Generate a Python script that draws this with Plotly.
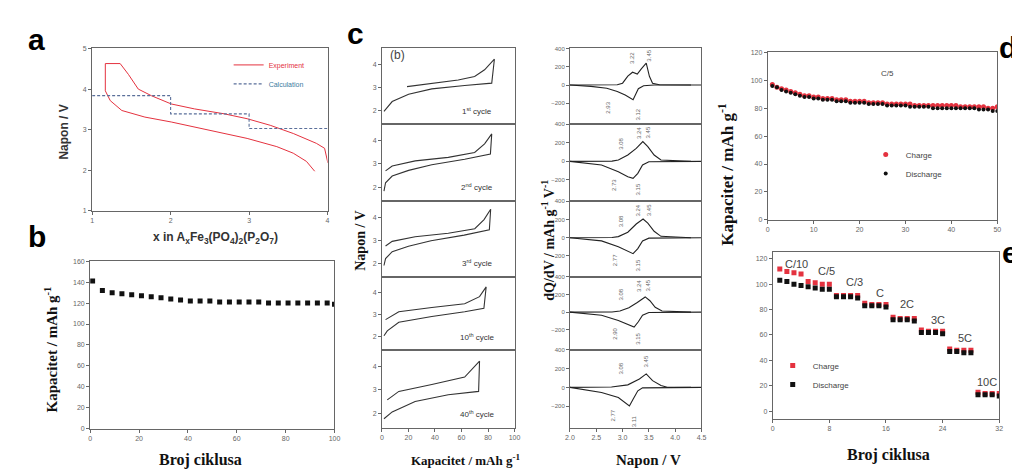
import plotly.graph_objects as go

W, H = 1020, 470
RED = "#e4323f"
BLUE = "#5a6f9a"
GREY = "#666666"
SERIF = "Liberation Serif"
SANS = "Liberation Sans"

# ---------------- data ----------------
# (a) voltage profile, x in AxFe3(PO4)2(P2O7)
a_exp_x = [1.168, 1.168, 1.357, 1.462, 1.588, 1.756, 2.008, 2.303, 2.681, 2.975, 3.269, 3.563, 3.857, 3.962, 4.004]
a_exp_v = [3.958, 4.628, 4.628, 4.362, 4.00, 3.836, 3.634, 3.513, 3.392, 3.271, 3.109, 2.907, 2.665, 2.543, 2.18]
a_exp2_x = [1.168, 1.231, 1.378, 1.672, 2.008, 2.513, 2.975, 3.353, 3.563, 3.731, 3.836]
a_exp2_v = [3.958, 3.715, 3.473, 3.311, 3.19, 2.988, 2.786, 2.584, 2.422, 2.22, 1.978]
a_calc_x = [1.0, 2.0, 2.0, 3.0, 3.0, 4.0]
a_calc_v = [3.84, 3.84, 3.39, 3.39, 3.03, 3.03]
a_xticks = [1, 2, 3, 4]
a_yticks = [1, 2, 3, 4, 5]

# (b) long cycling
b_cycle = [1, 5, 9, 13, 17, 21, 25, 29, 33, 37, 41, 45, 49, 53, 57, 61, 65, 69, 73, 77, 81, 85, 89, 93, 97, 100]
b_cap = [141, 132, 130, 129, 128, 127, 126, 125, 124, 123, 122, 122, 122, 121, 121, 121, 121, 121, 120, 120, 120, 120, 120, 120, 120, 119]

# (c) left: galvanostatic loops (capacity, voltage)
c_names = ["1<sup>st</sup> cycle", "2<sup>nd</sup> cycle", "3<sup>rd</sup> cycle", "10<sup>th</sup> cycle", "40<sup>th</sup> cycle"]
c_cap = [
    [18.9, 37.6, 57.5, 69.9, 77.4, 84.8, 82.8, 62.4, 37.6, 20.1, 7.7, 1.5],
    [2.7, 7.7, 25.1, 50.0, 69.9, 77.4, 82.8, 81.8, 62.4, 37.6, 20.1, 7.7, 2.7, 1.5],
    [2.7, 7.7, 25.0, 50.0, 70.0, 77.0, 82.0, 81.0, 62.0, 37.0, 20.0, 7.7, 2.7, 1.5],
    [2.7, 12.7, 37.6, 62.4, 73.6, 78.6, 76.9, 62.4, 37.6, 12.7, 4.0, 1.5],
    [4.0, 12.7, 37.6, 62.4, 73.6, 72.9, 50.0, 25.0, 7.7, 1.5],
]
c_volt = [
    [3.04, 3.19, 3.33, 3.48, 3.77, 4.23, 3.19, 3.09, 2.94, 2.71, 2.39, 1.96],
    [2.70, 2.91, 3.13, 3.28, 3.49, 3.86, 4.29, 3.42, 3.20, 2.96, 2.72, 2.48, 2.19, 1.83],
    [2.75, 2.95, 3.15, 3.30, 3.50, 3.90, 4.35, 3.45, 3.22, 2.98, 2.74, 2.50, 2.20, 1.90],
    [2.77, 3.13, 3.32, 3.49, 3.81, 4.25, 3.28, 3.13, 2.91, 2.65, 2.26, 2.04],
    [2.58, 2.94, 3.23, 3.55, 4.22, 2.94, 2.80, 2.51, 2.07, 1.78],
]

# (c) right: dQ/dV, charge (positive) and discharge (negative)
dq_ch_v = [
    [2.0, 2.9, 3.0, 3.1, 3.19, 3.28, 3.36, 3.45, 3.51, 3.57, 3.7, 4.3],
    [2.0, 2.8, 2.92, 3.1, 3.26, 3.385, 3.48, 3.6, 3.73, 4.3],
    [2.0, 2.8, 2.92, 3.1, 3.26, 3.39, 3.48, 3.6, 3.73, 4.3],
    [2.0, 2.8, 2.95, 3.12, 3.28, 3.43, 3.52, 3.62, 3.75, 4.3],
    [2.0, 2.79, 3.1, 3.32, 3.45, 3.57, 3.73, 3.85, 4.3],
]
dq_ch_q = [
    [0, 2, 20, 97, 140, 120, 180, 240, 95, 20, 2, 0],
    [0, 2, 14, 68, 140, 213, 159, 68, 14, 0],
    [0, 2, 12, 60, 150, 205, 160, 70, 15, 0],
    [0, 2, 12, 50, 110, 173, 130, 55, 12, 0],
    [0, 5, 27, 90, 144, 72, 20, 2, 0],
]
dq_dis_v = [
    [2.0, 2.4, 2.7, 2.9, 3.05, 3.15, 3.2, 3.25, 3.3, 3.4, 3.6, 4.5],
    [2.0, 2.6, 2.92, 3.1, 3.2, 3.29, 3.38, 3.5, 4.5],
    [2.0, 2.6, 2.92, 3.1, 3.2, 3.29, 3.38, 3.5, 4.5],
    [2.0, 2.6, 2.92, 3.1, 3.22, 3.3, 3.38, 3.5, 4.5],
    [2.0, 2.6, 2.92, 3.13, 3.2, 3.29, 3.38, 4.5],
]
dq_dis_q = [
    [0, -15, -35, -70, -110, -150, -160, -100, -40, -8, 0, 0],
    [0, -40, -112, -166, -184, -130, -40, -5, 0],
    [0, -35, -100, -150, -175, -120, -35, -5, 0],
    [0, -35, -95, -145, -170, -110, -35, -5, 0],
    [0, -54, -108, -198, -126, -36, -5, 0],
]
# peak labels: (voltage, dQ/dV, text) per cycle
dq_labels = [
    [(3.17, 300, "3.22"), (3.5, 320, "3.45"), (2.72, -250, "2.93"), (3.3, -320, "3.12")],
    [(2.97, 190, "3.08"), (3.3, 310, "3.24"), (3.48, 310, "3.45"), (2.85, -260, "2.73"), (3.3, -300, "3.15")],
    [(2.97, 180, "3.08"), (3.3, 300, "3.24"), (3.5, 300, "3.45"), (2.85, -250, "2.77"), (3.3, -300, "3.15")],
    [(2.97, 200, "3.08"), (3.3, 300, "3.24"), (3.48, 300, "3.45"), (2.85, -250, "2.90"), (3.3, -300, "3.15")],
    [(2.97, 200, "3.08"), (3.45, 280, "3.45"), (2.8, -300, "2.77"), (3.22, -360, "3.11")],
]

# (d) cycling at C/5
d_cycle = list(range(1, 51))
d_charge = [97, 95, 94, 93, 92, 91, 90, 89, 89, 88, 88, 87, 87, 87, 86, 86, 86, 85, 85, 85,
            85, 84, 84, 84, 84, 83, 83, 83, 83, 83, 83, 82, 82, 82, 82, 82, 82, 82, 82, 82,
            82, 81, 81, 81, 81, 81, 81, 80, 80, 81]
d_discharge = [96, 95, 93, 92, 91, 90, 89, 88, 88, 87, 87, 86, 86, 86, 85, 85, 85, 84, 84, 84,
               84, 83, 83, 83, 83, 82, 82, 82, 82, 82, 81, 81, 81, 81, 81, 80, 80, 80, 80, 80,
               80, 80, 80, 80, 80, 79, 79, 79, 78, 78]

# (e) rate capability
e_cycle = list(range(1, 33))
e_charge = [112, 110, 109, 108, 102, 101, 100, 100, 91, 91, 91, 91, 85, 84, 84, 84,
            74, 73, 73, 73, 64, 63, 63, 63, 49, 48, 48, 48, 15, 14, 14, 14]
e_discharge = [103, 102, 100, 99, 98, 97, 96, 96, 90, 90, 90, 89, 83, 83, 83, 82,
               72, 72, 72, 71, 62, 62, 62, 61, 47, 47, 46, 46, 13, 13, 13, 12]
e_rates = ["C/10", "C/5", "C/3", "C", "2C", "3C", "5C", "10C"]
e_rate_x = [3.4, 7.6, 11.6, 15.2, 19.0, 23.3, 27.2, 30.3]
e_rate_y = [116, 110, 102, 93, 84, 72, 58, 23]

# ---------------- layout helpers ----------------
def dx(l, r):
    return [l / W, r / W]

def dy(t, b):
    return [1 - b / H, 1 - t / H]

def axis(**kw):
    d = dict(showline=True, linecolor=GREY, linewidth=1, mirror=True, ticks="outside",
             ticklen=3, tickcolor=GREY, showgrid=False, zeroline=False,
             tickfont=dict(family=SANS, size=7, color=GREY))
    d.update(kw)
    return d

fig = go.Figure()
lay = {}

def add_axes(n, xdom, ydom, xkw, ykw):
    xk = "xaxis" if n == 1 else f"xaxis{n}"
    yk = "yaxis" if n == 1 else f"yaxis{n}"
    xa = "x" if n == 1 else f"x{n}"
    ya = "y" if n == 1 else f"y{n}"
    lay[xk] = axis(domain=xdom, anchor=ya, **xkw)
    lay[yk] = axis(domain=ydom, anchor=xa, **ykw)
    return xa, ya

# (a)
xa, ya = add_axes(1, dx(80, 318), dy(37, 202),
                  dict(range=[1, 4], tickvals=a_xticks),
                  dict(range=[1, 5], tickvals=a_yticks))
fig.add_trace(go.Scatter(x=a_exp_x, y=a_exp_v, mode="lines", line=dict(color=RED, width=1),
                         name="<span style='color:#e4323f'>Experiment</span>", legend="legend", xaxis=xa, yaxis=ya))
fig.add_trace(go.Scatter(x=a_exp2_x, y=a_exp2_v, mode="lines", line=dict(color=RED, width=1),
                         showlegend=False, xaxis=xa, yaxis=ya))
fig.add_trace(go.Scatter(x=a_calc_x, y=a_calc_v, mode="lines", line=dict(color=BLUE, width=1.1, dash="3px,2px"),
                         name="<span style='color:#3a7aa0'>Calculation</span>", legend="legend", xaxis=xa, yaxis=ya))

# (b)
xa, ya = add_axes(2, dx(78, 325), dy(253, 423),
                  dict(range=[0, 100], tickvals=[0, 20, 40, 60, 80, 100]),
                  dict(range=[0, 160], tickvals=list(range(0, 161, 20))))
fig.add_trace(go.Scatter(x=b_cycle, y=b_cap, mode="markers", marker=dict(symbol="square", size=5, color="#111"),
                         showlegend=False, xaxis=xa, yaxis=ya))

rows = [(37, 114), (114, 192), (192, 269), (269, 343), (343, 422)]
annos = []
for i, (t, b) in enumerate(rows):
    last = i == len(rows) - 1
    # left column
    xkw = dict(range=[0, 100], tickvals=[0, 20, 40, 60, 80, 100], showticklabels=last,
               ticks="outside" if last else "")
    xa, ya = add_axes(3 + i, dx(373, 507), dy(t, b), xkw,
                      dict(range=[1.4, 4.7], tickvals=[2, 3, 4]))
    fig.add_trace(go.Scatter(x=c_cap[i], y=c_volt[i], mode="lines", line=dict(color="#333", width=1.1),
                             showlegend=False, xaxis=xa, yaxis=ya))
    annos.append(dict(x=72, y=2.0, xref=xa, yref=ya, text=c_names[i], showarrow=False,
                      font=dict(family=SANS, size=8, color="#333")))
    if i == 0:
        annos.append(dict(x=12, y=4.4, xref=xa, yref=ya, text="(b)", showarrow=False,
                          font=dict(family=SANS, size=12, color="#444")))
    # right column
    xkw = dict(range=[2.0, 4.5], tickvals=[2.0, 2.5, 3.0, 3.5, 4.0, 4.5], tickformat=".1f",
               showticklabels=last, ticks="outside" if last else "")
    ykw = dict(range=[-430, 400], tickvals=[-200, 0, 200, 400],
               tickfont=dict(family=SANS, size=6, color=GREY))
    xa, ya = add_axes(8 + i, dx(563, 696), dy(t, b), xkw, ykw)
    fig.add_trace(go.Scatter(x=dq_dis_v[i], y=dq_dis_q[i], mode="lines", line=dict(color="#222", width=1.1),
                             showlegend=False, xaxis=xa, yaxis=ya))
    fig.add_trace(go.Scatter(x=dq_ch_v[i], y=dq_ch_q[i], mode="lines", line=dict(color="#222", width=1.1),
                             showlegend=False, xaxis=xa, yaxis=ya))
    for (vx, vy, txt) in dq_labels[i]:
        annos.append(dict(x=vx, y=vy, xref=xa, yref=ya, text=txt, textangle=-90, showarrow=False,
                          font=dict(family=SANS, size=6, color="#666")))

# (d)
xa, ya = add_axes(13, dx(763, 995), dy(41, 211),
                  dict(range=[0, 50], tickvals=[0, 10, 20, 30, 40, 50]),
                  dict(range=[0, 120], tickvals=list(range(0, 121, 20))))
fig.add_trace(go.Scatter(x=d_cycle, y=d_charge, mode="markers", marker=dict(symbol="circle", size=5, color=RED),
                         name="Charge", legend="legend2", xaxis=xa, yaxis=ya))
fig.add_trace(go.Scatter(x=d_cycle, y=d_discharge, mode="markers", marker=dict(symbol="circle", size=4, color="#111"),
                         name="Discharge", legend="legend2", xaxis=xa, yaxis=ya))
annos.append(dict(x=26, y=105, xref=xa, yref=ya, text="C/5", showarrow=False,
                  font=dict(family=SANS, size=8, color="#444")))

# (e)
xa, ya = add_axes(14, dx(768, 997), dy(244, 413),
                  dict(range=[0, 32], tickvals=[0, 8, 16, 24, 32]),
                  dict(range=[-6, 125], tickvals=list(range(0, 121, 20))))
fig.add_trace(go.Scatter(x=e_cycle, y=e_charge, mode="markers", marker=dict(symbol="square", size=5, color=RED),
                         name="Charge", legend="legend3", xaxis=xa, yaxis=ya))
fig.add_trace(go.Scatter(x=e_cycle, y=e_discharge, mode="markers", marker=dict(symbol="square", size=5, color="#111"),
                         name="Discharge", legend="legend3", xaxis=xa, yaxis=ya))
for rx, ry, rt in zip(e_rate_x, e_rate_y, e_rates):
    annos.append(dict(x=rx, y=ry, xref=xa, yref=ya, text=rt, showarrow=False,
                      font=dict(family=SANS, size=11, color="#444")))

# ---------------- titles & panel letters ----------------
def ptext(px, py, text, size, family, angle=0, color="#111"):
    annos.append(dict(x=px / W, y=1 - py / H, xref="paper", yref="paper", text=text, showarrow=False,
                      textangle=angle, xanchor="center", yanchor="middle",
                      font=dict(family=family, size=size, color=color)))

ptext(52, 122, "<b>Napon / V</b>", 12, SANS, -90, "#333")
ptext(205, 229, "<b>x in A<sub>x</sub>Fe<sub>3</sub>(PO<sub>4</sub>)<sub>2</sub>(P<sub>2</sub>O<sub>7</sub>)</b>", 12, SANS, 0, "#333")
ptext(38, 343, "<b>Kapacitet / mAh g<sup>-1</sup></b>", 15, SERIF, -90)
ptext(190, 455, "<b>Broj ciklusa</b>", 16, SERIF)
ptext(351, 232, "<b>Napon / V</b>", 14, SERIF, -90)
ptext(540, 232, "<b>dQ/dV / mAh g<sup>-1</sup> V<sup>-1</sup></b>", 14, SERIF, -90)
ptext(457, 455, "<b>Kapacitet / mAh g<sup>-1</sup></b>", 13, SERIF)
ptext(642, 455, "<b>Napon / V</b>", 15, SERIF)
ptext(720, 165, "<b>Kapacitet / mAh g<sup>-1</sup></b>", 17, SERIF, -90)
ptext(885, 450, "<b>Broj ciklusa</b>", 16, SERIF)

for lx, ly, lt in [(24, 28, "a"), (24, 228, "b"), (346, 22, "c"), (1006, 36, "d"), (1008, 244, "e")]:
    ptext(lx, ly, "<b>" + lt + "</b>", 30, SANS, 0, "#000")

legend_common = dict(bgcolor="rgba(0,0,0,0)", borderwidth=0, xanchor="left", yanchor="top",
                     tracegroupgap=0, itemsizing="trace")
lay.update(
    width=W, height=H,
    margin=dict(l=0, r=0, t=0, b=0),
    paper_bgcolor="white", plot_bgcolor="white",
    annotations=annos,
    legend=dict(x=218 / W, y=1 - 39 / H, font=dict(family=SANS, size=7, color=RED), itemwidth=30,
                **legend_common),
    legend2=dict(x=862 / W, y=1 - 130 / H, font=dict(family=SANS, size=8, color="#444"), **legend_common),
    legend3=dict(x=768 / W, y=1 - 344 / H, font=dict(family=SANS, size=8, color="#444"), **legend_common),
)
fig.update_layout(**lay)
fig.write_html("out.html")
